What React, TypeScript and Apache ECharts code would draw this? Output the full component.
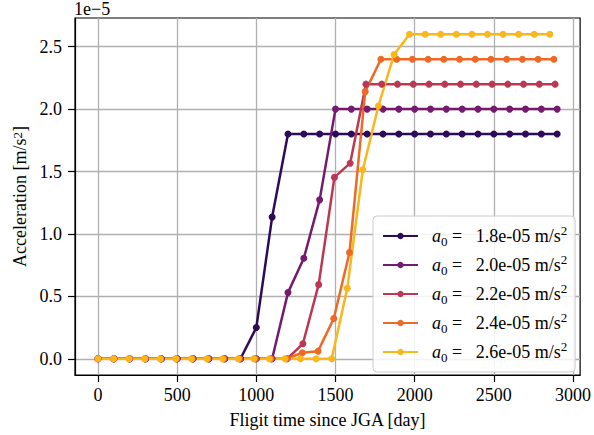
import React, { useEffect, useRef } from "react";
import * as echarts from "echarts";

// Flight time since JGA [day] for each run
const days18 = [0, 100, 200, 300, 400, 500, 600, 700, 800, 900, 1000, 1100, 1200, 1300, 1400, 1500, 1600, 1700, 1800, 1900, 2000, 2100, 2200, 2300, 2400, 2500, 2600, 2700, 2800, 2900];
const days20 = [0, 100, 200, 300, 400, 500, 600, 700, 800, 900, 1000, 1100, 1200, 1300, 1400, 1500, 1600, 1700, 1800, 1900, 2000, 2100, 2200, 2300, 2400, 2500, 2600, 2700, 2800, 2900];
const days22 = [0, 99.6, 199.1, 298.7, 398.2, 497.8, 597.3, 696.9, 796.4, 896.0, 995.5, 1095.1, 1194.6, 1294.2, 1393.7, 1493.3, 1592.8, 1692.4, 1791.9, 1891.5, 1991.0, 2090.6, 2190.1, 2289.7, 2389.2, 2488.8, 2588.3, 2687.9, 2787.4, 2887.0];
const days24 = [0, 99.3, 198.6, 297.8, 397.1, 496.4, 595.7, 695.0, 794.2, 893.5, 992.8, 1092.1, 1191.4, 1290.6, 1389.9, 1489.2, 1588.5, 1687.8, 1787.0, 1886.3, 1985.6, 2084.9, 2184.2, 2283.4, 2382.7, 2482.0, 2581.3, 2680.6, 2779.8, 2879.1];
const days26 = [0, 98.4, 196.8, 295.2, 393.6, 492.0, 590.4, 688.8, 787.2, 885.6, 984.0, 1082.4, 1180.8, 1279.2, 1377.6, 1476.0, 1574.4, 1672.8, 1771.2, 1869.6, 1968.0, 2066.4, 2164.8, 2263.2, 2361.6, 2460.0, 2558.4, 2656.8, 2755.2, 2853.6];

// Acceleration in units of 1e-5 m/s^2
const accel18 = [0, 0, 0, 0, 0, 0, 0, 0, 0, 0, 0.25, 1.135, 1.8, 1.8, 1.8, 1.8, 1.8, 1.8, 1.8, 1.8, 1.8, 1.8, 1.8, 1.8, 1.8, 1.8, 1.8, 1.8, 1.8, 1.8];
const accel20 = [0, 0, 0, 0, 0, 0, 0, 0, 0, 0, 0, 0, 0.53, 0.805, 1.273, 2.0, 2.0, 2.0, 2.0, 2.0, 2.0, 2.0, 2.0, 2.0, 2.0, 2.0, 2.0, 2.0, 2.0, 2.0];
const accel22 = [0, 0, 0, 0, 0, 0, 0, 0, 0, 0, 0, 0, 0, 0.12, 0.594, 1.453, 1.567, 2.2, 2.2, 2.2, 2.2, 2.2, 2.2, 2.2, 2.2, 2.2, 2.2, 2.2, 2.2, 2.2];
const accel24 = [0, 0, 0, 0, 0, 0, 0, 0, 0, 0, 0, 0, 0, 0.048, 0.061, 0.323, 0.851, 2.14, 2.4, 2.4, 2.4, 2.4, 2.4, 2.4, 2.4, 2.4, 2.4, 2.4, 2.4, 2.4];
const accel26 = [0, 0, 0, 0, 0, 0, 0, 0, 0, 0, 0, 0, 0, 0, 0, 0, 0.564, 1.514, 2.025, 2.437, 2.6, 2.6, 2.6, 2.6, 2.6, 2.6, 2.6, 2.6, 2.6, 2.6];

const seriesLabels = ["1.8e-05", "2.0e-05", "2.2e-05", "2.4e-05", "2.6e-05"];
const seriesDays = [days18, days20, days22, days24, days26];
const seriesAccel = [accel18, accel20, accel22, accel24, accel26];
const seriesColors = ["#2d0b59", "#751b6e", "#bc3754", "#ed6925", "#fbb61a"];

const xTicks = [0, 500, 1000, 1500, 2000, 2500, 3000];
const yTicks = [0, 0.5, 1.0, 1.5, 2.0, 2.5];

const FONT = "Liberation Serif";
const FS = 18;
const NB = "\u00a0";

export default function App() {
  const ref = useRef<HTMLDivElement>(null);
  useEffect(() => {
    if (!ref.current) return;
    const chart = echarts.init(ref.current, undefined, { renderer: "svg" });
    const series = seriesLabels.map((name, k) => ({
      name,
      type: "line",
      data: seriesDays[k].map((d, i) => [d, seriesAccel[k][i]]),
      symbol: "circle",
      symbolSize: 7,
      showSymbol: true,
      color: seriesColors[k],
      lineStyle: { width: 2.5, color: seriesColors[k] },
      itemStyle: { color: seriesColors[k] },
      emphasis: { disabled: true },
    }));
    chart.setOption({
      animation: false,
      backgroundColor: "#ffffff",
      textStyle: { fontFamily: FONT },
      grid: {
        left: 75,
        right: 11,
        top: 18,
        bottom: 60,
        show: true,
        borderColor: "#000",
        borderWidth: 1.2,
        backgroundColor: "transparent",
      },
      graphic: [
        {
          type: "text",
          left: 74,
          top: 0,
          style: { text: "1e\u22125", fontFamily: FONT, fontSize: FS, fill: "#000" },
        },
      ],
      legend: {
        orient: "vertical",
        left: 373,
        top: 216,
        padding: [8, 8, 8, 9],
        itemWidth: 35,
        itemHeight: 8,
        itemGap: 5,
        backgroundColor: "rgba(255,255,255,0.85)",
        borderColor: "#cccccc",
        borderWidth: 1,
        borderRadius: 4,
        formatter: (name: string) =>
          `{i|a}{sub|0}{t|${NB}=${NB}${NB}${NB}${name} m/s}{sup|2}`,
        textStyle: {
          fontFamily: FONT,
          fontSize: FS,
          color: "#000",
          rich: {
            i: { fontFamily: FONT, fontSize: FS, fontStyle: "italic", lineHeight: 24, padding: [0, 0, 0, 9] },
            sub: { fontFamily: FONT, fontSize: 13, lineHeight: 15, verticalAlign: "bottom" },
            t: { fontFamily: FONT, fontSize: FS, lineHeight: 24 },
            sup: { fontFamily: FONT, fontSize: 13, lineHeight: 14, verticalAlign: "top" },
          },
        },
        data: seriesLabels.map((n, k) => ({ name: n, itemStyle: { color: seriesColors[k] } })),
      },
      xAxis: {
        type: "value",
        min: -145,
        max: 3045,
        name: "Fligit time since JGA [day]",
        nameLocation: "middle",
        nameGap: 36,
        nameTextStyle: { fontFamily: FONT, fontSize: FS, color: "#000" },
        axisLine: { show: true, onZero: false, lineStyle: { color: "#000", width: 1.2 } },
        axisTick: { show: true, length: 7, customValues: xTicks, lineStyle: { color: "#000", width: 1.2 } },
        axisLabel: {
          customValues: xTicks,
          margin: 11,
          fontFamily: FONT,
          fontSize: FS,
          color: "#000",
          formatter: (v: number) => String(v),
        },
        splitLine: { show: true, lineStyle: { color: "#b0b0b0", width: 1.3 } },
      },
      yAxis: {
        type: "value",
        min: -0.13,
        max: 2.73,
        name: "Acceleration [m/s{sup|2}]",
        nameLocation: "middle",
        nameGap: 35,
        nameTextStyle: {
          fontFamily: FONT,
          fontSize: FS,
          color: "#000",
          rich: {
            sup: { fontFamily: FONT, fontSize: 13, lineHeight: 14, verticalAlign: "top" },
          },
        },
        axisLine: { show: true, onZero: false, lineStyle: { color: "#000", width: 1.2 } },
        axisTick: { show: true, length: 7, customValues: yTicks, lineStyle: { color: "#000", width: 1.2 } },
        axisLabel: {
          customValues: yTicks,
          margin: 13,
          fontFamily: FONT,
          fontSize: FS,
          color: "#000",
          formatter: (v: number) => v.toFixed(1),
        },
        splitLine: { show: true, lineStyle: { color: "#b0b0b0", width: 1.3 } },
      },
      series,
    });
    return () => chart.dispose();
  }, []);
  return (
    <div
      ref={ref}
      style={{ position: "fixed", left: 0, top: 0, width: 594, height: 435, background: "#fff" }}
    />
  );
}
